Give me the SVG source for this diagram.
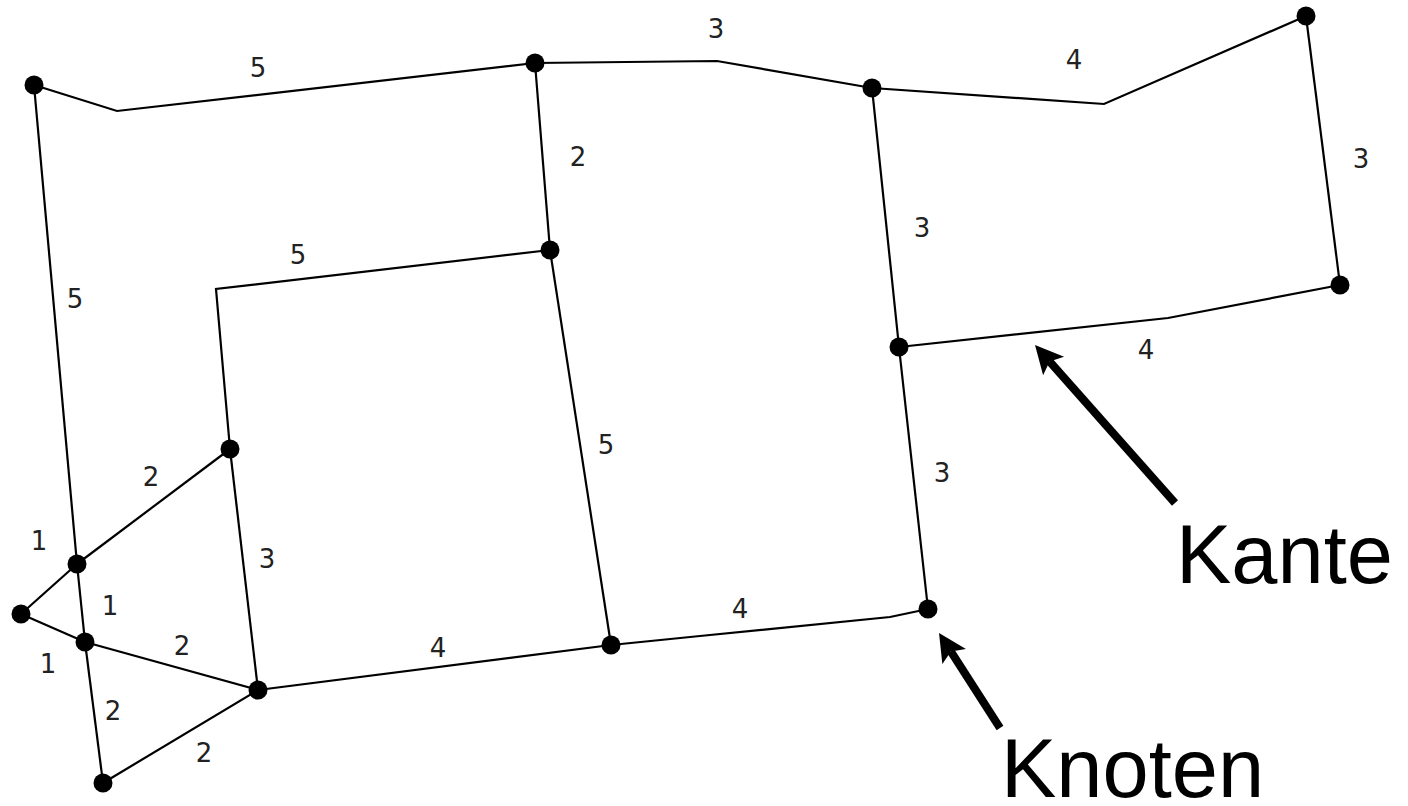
<svg xmlns="http://www.w3.org/2000/svg" width="1408" height="806" viewBox="0 0 1408 806">
<style>
.edge{fill:none;stroke:#000;stroke-width:2.2;stroke-linejoin:miter}
.node{fill:#000}
.lbl{font-family:"DejaVu Sans",sans-serif;font-size:26px;fill:#222;text-anchor:middle}
.big{font-family:"Liberation Sans",Arial,sans-serif;font-size:83px;fill:#000}
.arrow{fill:none;stroke:#000;stroke-width:8;marker-end:url(#ah)}
</style>
<defs>
<marker id="ah" markerUnits="userSpaceOnUse" viewBox="-15 -20 50 40" markerWidth="50" markerHeight="40" refX="0" refY="0" orient="auto">
<path d="M22,0 L-6,-14 L0,0 L-6,14 Z" fill="#000"/>
</marker>
</defs>
<rect width="1408" height="806" fill="#fff"/>
<g id="connectors">
<polyline class="edge" points="34,85 117,111 535,63"/>
<polyline class="edge" points="535,63 717,61 872,88"/>
<polyline class="edge" points="872,88 1104,104 1306,16"/>
<polyline class="edge" points="1306,16 1340,285"/>
<polyline class="edge" points="1340,285 1168,318 899,347"/>
<polyline class="edge" points="872,88 899,347"/>
<polyline class="edge" points="899,347 928,609"/>
<polyline class="edge" points="928,609 890,617 700,636 611,645"/>
<polyline class="edge" points="611,645 258,690"/>
<polyline class="edge" points="535,63 550,250"/>
<polyline class="edge" points="550,250 611,645"/>
<polyline class="edge" points="550,250 216,289 230,449"/>
<polyline class="edge" points="230,449 258,690"/>
<polyline class="edge" points="34,85 77,564"/>
<polyline class="edge" points="77,564 85,642"/>
<polyline class="edge" points="85,642 103,783"/>
<polyline class="edge" points="230,449 77,564"/>
<polyline class="edge" points="77,564 21,614"/>
<polyline class="edge" points="21,614 85,642"/>
<polyline class="edge" points="85,642 258,690"/>
<polyline class="edge" points="103,783 258,690"/>
</g>
<g id="edge-labels">
<text class="lbl" x="258" y="77">5</text>
<text class="lbl" x="716" y="38">3</text>
<text class="lbl" x="1074" y="69">4</text>
<text class="lbl" x="1361" y="168">3</text>
<text class="lbl" x="1146" y="359">4</text>
<text class="lbl" x="922" y="237">3</text>
<text class="lbl" x="942" y="482">3</text>
<text class="lbl" x="740" y="618">4</text>
<text class="lbl" x="438" y="657">4</text>
<text class="lbl" x="578" y="166">2</text>
<text class="lbl" x="606" y="454">5</text>
<text class="lbl" x="298" y="264">5</text>
<text class="lbl" x="267" y="568">3</text>
<text class="lbl" x="75" y="308">5</text>
<text class="lbl" x="151" y="486">2</text>
<text class="lbl" x="39" y="550">1</text>
<text class="lbl" x="110" y="615">1</text>
<text class="lbl" x="182" y="655">2</text>
<text class="lbl" x="48" y="673">1</text>
<text class="lbl" x="113" y="720">2</text>
<text class="lbl" x="204" y="762">2</text>
</g>
<g id="nA"><circle class="node" cx="34" cy="85" r="9.5"/></g>
<g id="nB"><circle class="node" cx="535" cy="63" r="9.5"/></g>
<g id="nC"><circle class="node" cx="872" cy="88" r="9.5"/></g>
<g id="nD"><circle class="node" cx="1306" cy="16" r="9.5"/></g>
<g id="nE"><circle class="node" cx="1340" cy="285" r="9.5"/></g>
<g id="nF"><circle class="node" cx="899" cy="347" r="9.5"/></g>
<g id="nG"><circle class="node" cx="550" cy="250" r="9.5"/></g>
<g id="nH"><circle class="node" cx="928" cy="609" r="9.5"/></g>
<g id="nI"><circle class="node" cx="611" cy="645" r="9.5"/></g>
<g id="nJ"><circle class="node" cx="258" cy="690" r="9.5"/></g>
<g id="nK"><circle class="node" cx="230" cy="449" r="9.5"/></g>
<g id="nL"><circle class="node" cx="77" cy="564" r="9.5"/></g>
<g id="nM"><circle class="node" cx="21" cy="614" r="9.5"/></g>
<g id="nN"><circle class="node" cx="85" cy="642" r="9.5"/></g>
<g id="nO"><circle class="node" cx="103" cy="783" r="9.5"/></g>
<g id="annotations">
<line class="arrow" x1="1175" y1="503" x2="1049.6" y2="361.5"/>
<text class="big" x="1176" y="583">Kante</text>
<line class="arrow" x1="1000" y1="728" x2="950.9" y2="651.5"/>
<text class="big" x="1001" y="797">Knoten</text>
</g>
</svg>
